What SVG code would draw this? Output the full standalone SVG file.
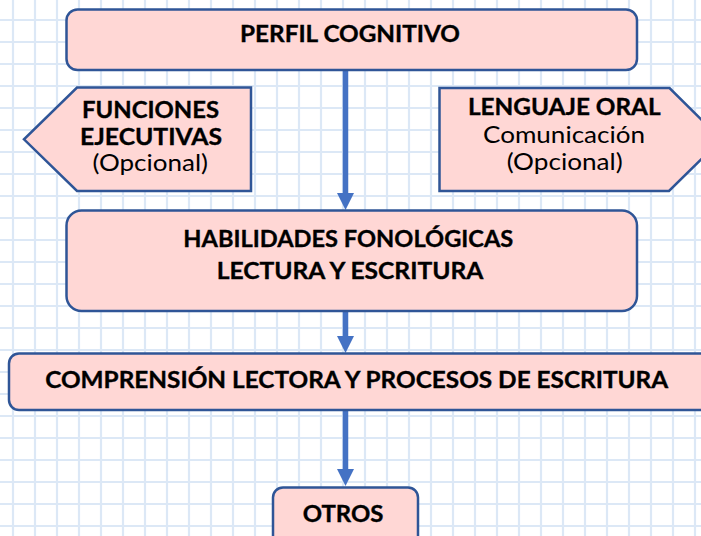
<svg xmlns="http://www.w3.org/2000/svg" width="701" height="536" viewBox="0 0 701 536">
  <defs>
    <pattern id="grid" x="2" y="9" width="22" height="22" patternUnits="userSpaceOnUse">
      <path d="M11 0V22M0 11H22" stroke="#dce8f6" stroke-width="2.2" fill="none"/>
    </pattern>
    <style>
      .box{fill:#ffd7d5;stroke:#2f5597;stroke-width:2.5}
      .b{font-family:Lato,"Liberation Sans",sans-serif;font-weight:700;font-size:23.5px;fill:#000;stroke:#000;stroke-width:0.35;text-anchor:middle}
      .r{font-family:Lato,"Liberation Sans",sans-serif;font-weight:400;font-size:23px;fill:#000;text-anchor:middle}
      .conn{stroke:#4472c4;stroke-width:5.5;fill:none}
      .head{fill:#4472c4}
    </style>
  </defs>
  <rect width="701" height="536" fill="#fff"/>
  <rect width="701" height="536" fill="url(#grid)"/>

  <g id="connectors">
    <path class="conn" d="M345.5 70V194"/>
    <path class="head" d="M337 193H354L345.5 210Z"/>
    <path class="conn" d="M345.5 311V337"/>
    <path class="head" d="M337 336H354L345.5 353Z"/>
    <path class="conn" d="M345.5 410V470"/>
    <path class="head" d="M337 469H354L345.5 486Z"/>
  </g>

  <g id="perfil">
    <rect class="box" x="66.5" y="9.5" width="570.5" height="60.5" rx="11"/>
    <text class="b" x="350" y="42" textLength="220" lengthAdjust="spacingAndGlyphs">PERFIL COGNITIVO</text>
  </g>

  <g id="funciones">
    <polygon class="box" points="77,87.5 251,87.5 251,191 77,191 24,139.3"/>
    <text class="b" x="150.5" y="118" textLength="137" lengthAdjust="spacingAndGlyphs">FUNCIONES</text>
    <text class="b" x="151" y="145" textLength="142" lengthAdjust="spacingAndGlyphs">EJECUTIVAS</text>
    <text class="r" x="150.3" y="171" textLength="115.5" lengthAdjust="spacingAndGlyphs">(Opcional)</text>
  </g>

  <g id="lenguaje">
    <polygon class="box" points="439.5,88 669.5,88 721.5,139.5 669,191 439.5,191"/>
    <text class="b" x="564.3" y="115" textLength="192.7" lengthAdjust="spacingAndGlyphs">LENGUAJE ORAL</text>
    <text class="r" x="564" y="143" textLength="162" lengthAdjust="spacingAndGlyphs">Comunicación</text>
    <text class="r" x="564.7" y="170" textLength="116" lengthAdjust="spacingAndGlyphs">(Opcional)</text>
  </g>

  <g id="habilidades">
    <rect class="box" x="66.5" y="210.5" width="570.5" height="100.5" rx="15"/>
    <text class="b" x="348.3" y="247" textLength="330" lengthAdjust="spacingAndGlyphs">HABILIDADES FONOLÓGICAS</text>
    <text class="b" x="350" y="279" textLength="266.7" lengthAdjust="spacingAndGlyphs">LECTURA Y ESCRITURA</text>
  </g>

  <g id="comprension">
    <rect class="box" x="9" y="353.5" width="710" height="56.5" rx="10"/>
    <text class="b" x="356.7" y="388" textLength="623" lengthAdjust="spacingAndGlyphs">COMPRENSIÓN LECTORA Y PROCESOS DE ESCRITURA</text>
  </g>

  <g id="otros">
    <rect class="box" x="273" y="487.5" width="145" height="60" rx="10"/>
    <text class="b" x="343" y="521.5" textLength="80.7" lengthAdjust="spacingAndGlyphs">OTROS</text>
  </g>
</svg>
